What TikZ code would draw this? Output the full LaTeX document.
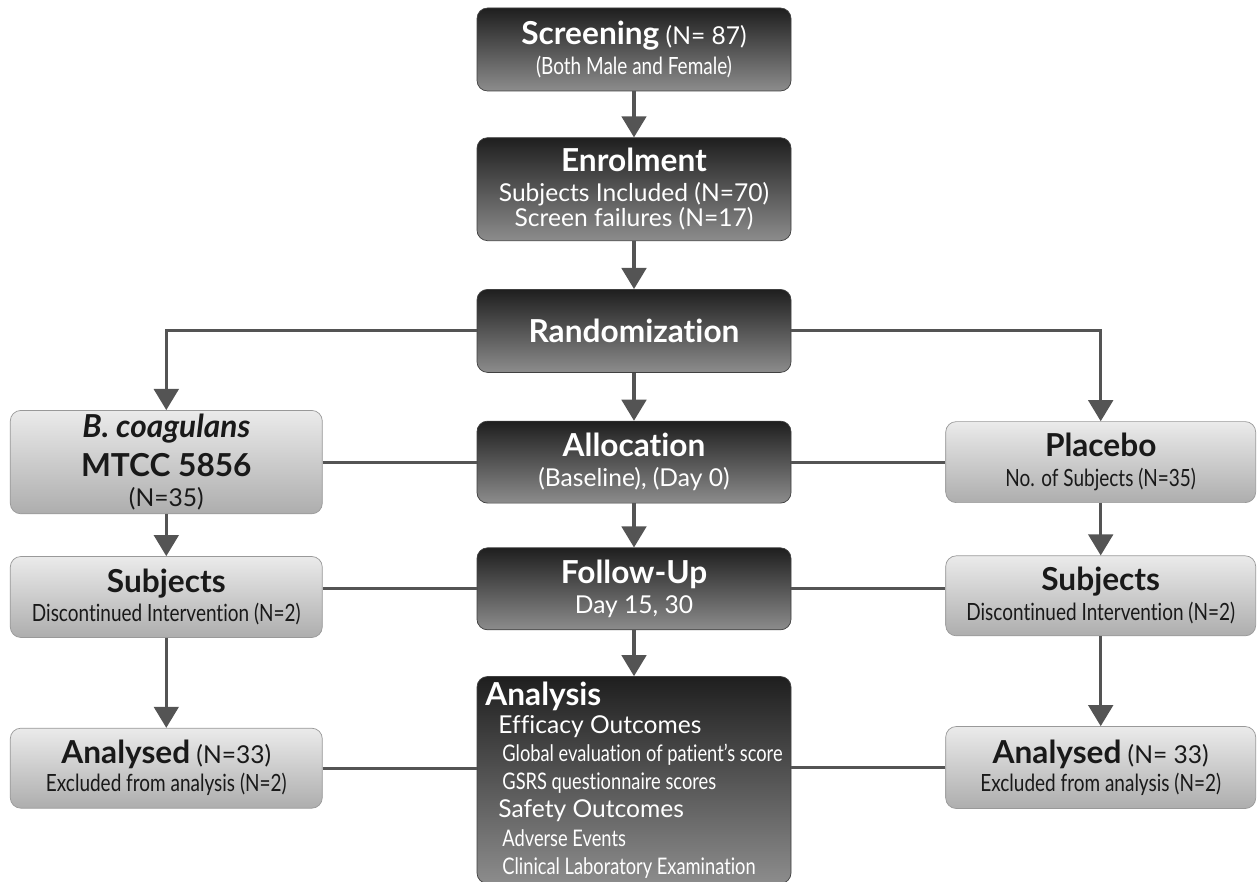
\documentclass[tikz,border=0pt]{standalone}
\usepackage{fontspec}
\setmainfont{Lato}[Ligatures=NoCommon]
\newfontfamily\narrowfam[FakeStretch=0.8, Ligatures=NoCommon]{Lato}
\usepackage{tikz}
\usetikzlibrary{arrows.meta, positioning}
\newcommand{\hd}{\fontsize{18}{18}\selectfont\bfseries}
\newcommand{\md}{\fontsize{14}{14}\selectfont}
\newcommand{\nr}{\narrowfam\fontsize{13.5}{14}\selectfont}
\newcommand{\nrs}{\narrowfam\fontsize{13}{14}\selectfont}
\tikzset{
    darkbox/.style={rectangle, rounded corners=6pt, draw=black!75, top color=black!88, bottom color=black!45, text=white, align=center, font=\md, minimum width=6.28cm, inner sep=2pt},
    lightbox/.style={rectangle, rounded corners=6pt, draw=black!40, top color=black!8, bottom color=black!32, text=black!90, align=center, font=\md, inner sep=2pt},
    arrow/.style={line width=1.8pt, draw=black!67, -{Triangle[width=14pt, length=12pt]}},
    link/.style={line width=1.8pt, draw=black!67}
}
\begin{document}
\begin{tikzpicture}[node distance=0.9cm and 3.08cm]
    \useasboundingbox (0,0) rectangle (25.14,-17.64);
    % centre column
    \node (screen) [darkbox, minimum height=1.66cm] at (12.68,-0.99) {{\hd Screening} {\md (N= 87)}\\[3pt]{\nr (Both Male and Female)}};
    \node (enrol) [darkbox, minimum height=2.06cm, below=0.92cm of screen] {{\hd Enrolment}\\[3pt]{\md Subjects Included (N=70)}\\{\md Screen failures (N=17)}};
    \node (random) [darkbox, minimum height=1.66cm, below=0.96cm of enrol] {\hd Randomization};
    \node (alloc) [darkbox, minimum height=1.64cm, below=0.96cm of random] {{\hd Allocation}\\[3pt]{\md (Baseline), (Day 0)}};
    \node (follow) [darkbox, minimum height=1.64cm, below=0.88cm of alloc] {{\hd Follow-Up}\\[3pt]{\md Day 15, 30}};
    \node (analysis) [darkbox, minimum height=4.14cm, below=0.92cm of follow, align=left] {{\hd Analysis}\\[2pt]
        {\md\hspace*{0.26cm}Efficacy Outcomes}\\[2pt]
        {\nrs\hspace*{0.34cm}Global evaluation of patient’s score}\\[2pt]
        {\nrs\hspace*{0.34cm}GSRS questionnaire scores}\\[2pt]
        {\md\hspace*{0.26cm}Safety Outcomes}\\[2pt]
        {\nrs\hspace*{0.34cm}Adverse Events}\\[2pt]
        {\nrs\hspace*{0.34cm}Clinical Laboratory Examination}};

    % treatment arm
    \node (bcoag) [lightbox, minimum width=6.24cm, minimum height=2.04cm, left=of alloc] {{\hd\itshape B. coagulans}\\[5pt]{\hd MTCC 5856}\\[3pt]{\md (N=35)}};
    \node (subjL) [lightbox, minimum width=6.24cm, minimum height=1.62cm, below=0.84cm of bcoag] {{\hd Subjects}\\[3pt]{\nr Discontinued Intervention (N=2)}};
    \node (analysedL) [lightbox, minimum width=6.24cm, minimum height=1.6cm, below=1.8cm of subjL] {{\hd Analysed} {\md (N=33)}\\[2pt]{\nr Excluded from analysis (N=2)}};

    % placebo arm
    \node (placebo) [lightbox, minimum width=6.2cm, minimum height=1.62cm, right=of alloc] {{\hd Placebo}\\[3pt]{\nr No. of Subjects (N=35)}};
    \node (subjR) [lightbox, minimum width=6.2cm, minimum height=1.6cm, below=1.05cm of placebo] {{\hd Subjects}\\[3pt]{\nr Discontinued Intervention (N=2)}};
    \node (analysedR) [lightbox, minimum width=6.2cm, minimum height=1.64cm, below=1.8cm of subjR] {{\hd Analysed} {\md (N= 33)}\\[2pt]{\nr Excluded from analysis (N=2)}};

    \draw [link] (bcoag) -- (alloc);
    \draw [link] (alloc) -- (placebo);
    \draw [link] (follow.west) -- (follow.west -| subjL.east);
    \draw [link] (follow.east) -- (follow.east -| subjR.west);
    \draw [link] (analysedL.east) -- (analysedL.east -| analysis.west);
    \draw [link] (analysedR.west) -- (analysedR.west -| analysis.east);

    \draw [arrow] (screen) -- (enrol);
    \draw [arrow] (enrol) -- (random);
    \draw [arrow] (random) -- (alloc);
    \draw [arrow] (alloc) -- (follow);
    \draw [arrow] (follow) -- (analysis);
    \draw [arrow] (random) -| (bcoag);
    \draw [arrow] (random) -| (placebo);
    \draw [arrow] (bcoag) -- (subjL);
    \draw [arrow] (subjL) -- (analysedL);
    \draw [arrow] (placebo) -- (subjR);
    \draw [arrow] (subjR) -- (analysedR);
\end{tikzpicture}
\end{document}
